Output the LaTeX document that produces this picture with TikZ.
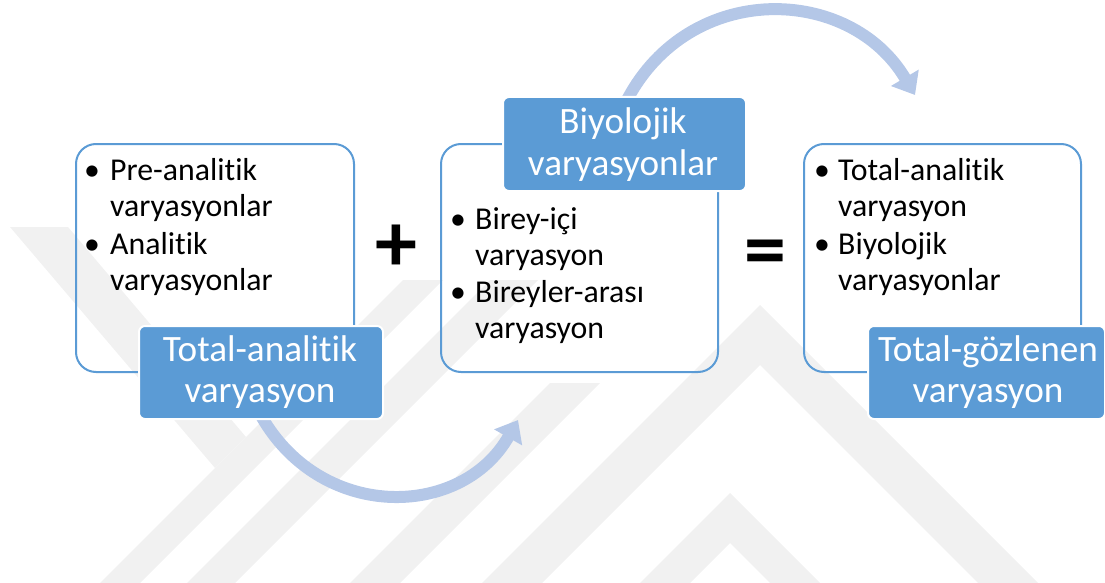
\documentclass[tikz,border=0pt]{standalone}
\usepackage{fontspec}
\setmainfont{Carlito}[Ligatures={NoCommon}]
\usetikzlibrary{arrows.meta}
\definecolor{accent}{HTML}{5B9BD5}
\definecolor{arrowc}{HTML}{B4C7E7}
\definecolor{wm}{HTML}{F1F1F1}
\begin{document}
\begin{tikzpicture}[x=1pt,y=-1pt,
  box/.style={draw=accent, line width=2pt, rounded corners=20pt, inner sep=0pt},
  lab/.style={fill=accent, draw=white, line width=2pt, rounded corners=6pt, inner sep=0pt},
  itm/.style={anchor=base west, inner sep=0pt, font=\fontsize{31.8}{37}\selectfont},
  bul/.style={anchor=base, inner sep=0pt, font=\fontsize{31.8}{37}\selectfont},
  labtxt/.style={anchor=base, inner sep=0pt, text=white, font=\fontsize{37.2}{43}\selectfont},
  sym/.style={inner sep=0pt, font=\fontsize{84}{84}\selectfont\bfseries},
  flow/.style={draw=arrowc, line width=12pt, -{Triangle[length=20pt,width=31pt]}}]
\useasboundingbox (0,0) rectangle (1105,583);
% watermark (approximate)
\fill[wm] (10,227) -- (68,227) -- (246,437) -- (215,468) -- cycle;
\fill[wm] (100,583) -- (140,583) -- (443,280) -- (403,280) -- cycle;
\fill[wm] (187,583) -- (235,583) -- (538,280) -- (490,280) -- cycle;
\fill[wm] (350,583) -- (400,583) -- (600,383) -- (550,383) -- cycle;
\fill[wm] (482,583) -- (760,305) -- (1038,583) -- (978,583) -- (760,365) -- (542,583) -- cycle;
\fill[wm] (640,583) -- (730,493) -- (820,583) -- (770,583) -- (730,543) -- (690,583) -- cycle;
% boxes
\node[box, minimum width=278pt, minimum height=228pt, anchor=north west] (b1) at (75,143) {};
\node[box, minimum width=277pt, minimum height=228pt, anchor=north west] (b2) at (440,143) {};
\node[box, minimum width=277pt, minimum height=228pt, anchor=north west] (b3) at (803,143) {};
% arrows
\coordinate (a1s) at (259,412);
\coordinate (a1e) at (518,420);
\coordinate (a2s) at (627,100);
\coordinate (a2e) at (915,95);
\draw[flow] (a1s) .. controls (318,522) and (461,520) .. (a1e);
\draw[flow] (a2s) .. controls (690,-20) and (850,-15) .. (a2e);
% labels
\node[lab, minimum width=244pt, minimum height=93pt, anchor=north west] (l1) at (138,325) {};
\node[lab, minimum width=243pt, minimum height=94pt, anchor=north west] (l2) at (502,96) {};
\node[lab, minimum width=237pt, minimum height=93pt, anchor=north west] (l3) at (867,325) {};
\node[labtxt] (l1a) at (260,361) {Total-analitik};
\node[labtxt] (l1b) at (260,402) {varyasyon};
\node[labtxt] (l2a) at (623,134) {Biyolojik};
\node[labtxt] (l2b) at (623,175) {varyasyonlar};
\node[labtxt] (l3a) at (988,361) {Total-gözlenen};
\node[labtxt] (l3b) at (988,402) {varyasyon};
% box 1 text
\node[bul] (p11) at (92,180) {•};
\node[itm] (t11) at (110,180) {Pre-analitik};
\node[itm] (t12) at (110,216) {varyasyonlar};
\node[bul] (p12) at (92,254) {•};
\node[itm] (t13) at (110,254) {Analitik};
\node[itm] (t14) at (110,290) {varyasyonlar};
% box 2 text
\node[bul] (p21) at (458,229) {•};
\node[itm] (t21) at (475,229) {Birey-içi};
\node[itm] (t22) at (475,265) {varyasyon};
\node[bul] (p22) at (458,302) {•};
\node[itm] (t23) at (475,302) {Bireyler-arası};
\node[itm] (t24) at (475,338) {varyasyon};
% box 3 text
\node[bul] (p31) at (822,180) {•};
\node[itm] (t31) at (838,180) {Total-analitik};
\node[itm] (t32) at (838,216) {varyasyon};
\node[bul] (p32) at (822,254) {•};
\node[itm] (t33) at (838,254) {Biyolojik};
\node[itm] (t34) at (838,290) {varyasyonlar};
% operators
\node[sym] (plus) at (396,248) {+};
\node[sym] (eq) at (765,259) {=};
\end{tikzpicture}
\end{document}
